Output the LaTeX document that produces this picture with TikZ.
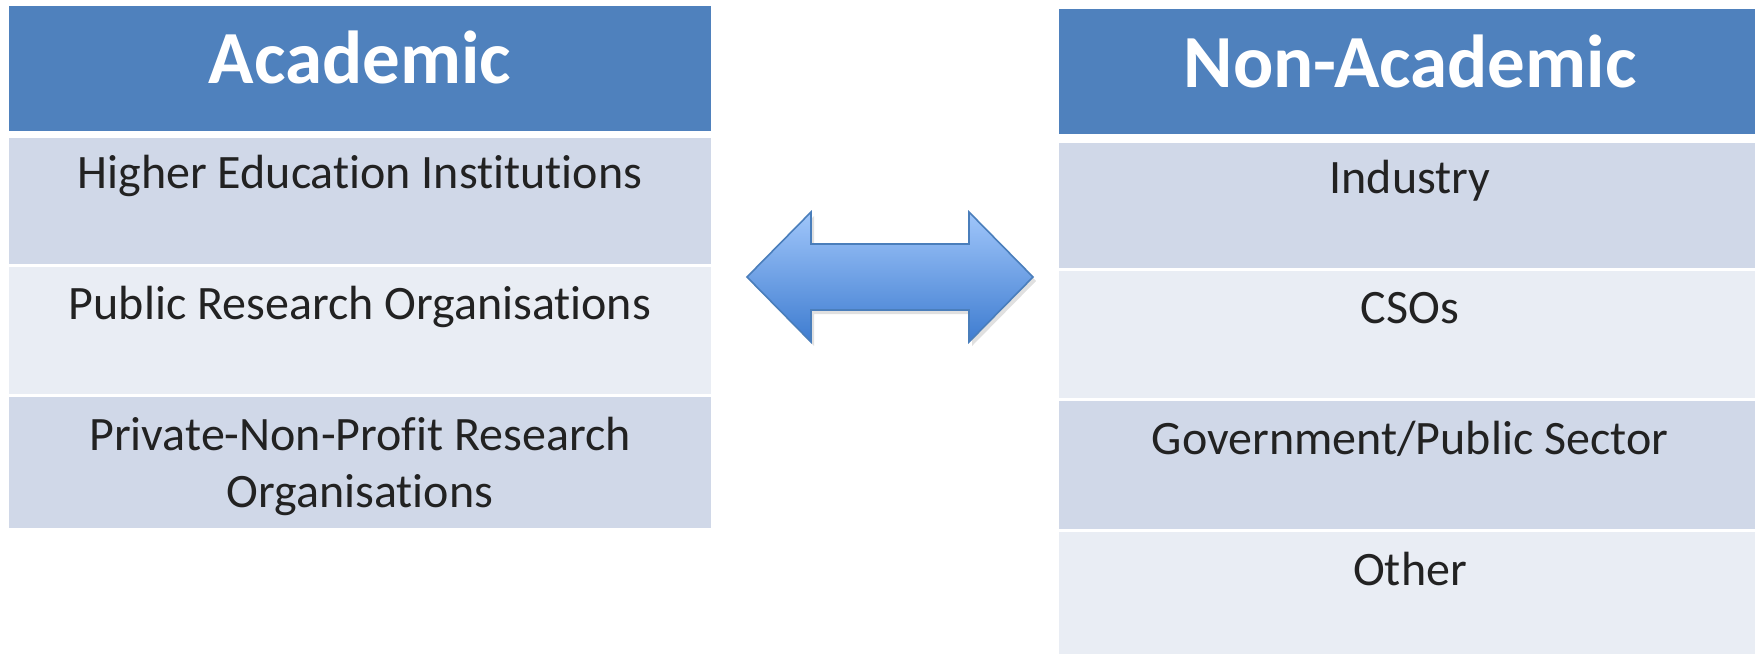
\documentclass[tikz,border=0pt]{standalone}
\usepackage{fontspec}
\setmainfont{Carlito}[Ligatures=NoCommon]
\definecolor{hdr}{HTML}{4F81BD}
\definecolor{rowdark}{HTML}{D0D8E8}
\definecolor{rowlight}{HTML}{E9EDF4}
\definecolor{txtcol}{HTML}{222222}
\definecolor{arrtop}{RGB}{160,198,250}
\definecolor{arrbot}{RGB}{62,124,208}
\definecolor{arredge}{RGB}{74,126,187}
\begin{document}
\begin{tikzpicture}[x=0.5pt,y=-0.5pt,
  hdrtext/.style={anchor=base,inner sep=0,text=white,font=\fontsize{37.5}{44}\selectfont\bfseries},
  celltext/.style={anchor=base,inner sep=0,text=txtcol,align=center,font=\fontsize{24}{28.5}\selectfont}]
\useasboundingbox (0,0) rectangle (1755,654);
\fill[white] (0,0) rectangle (1755,654);
% left table
\fill[hdr] (9,6) rectangle (711,131);
\fill[rowdark] (9,138) rectangle (711,264);
\fill[rowlight] (9,267) rectangle (711,394);
\fill[rowdark] (9,397) rectangle (711,528);
\node[hdrtext] (acad) at (360,83) {Academic};
\node[celltext] (hei) at (360,188) {Higher Education Institutions};
\node[celltext] (pro) at (360,319) {Public Research Organisations};
\node[celltext] (pnp) at (360,507) {Private-Non-Profit Research\\Organisations};
% right table
\fill[hdr] (1059,9) rectangle (1755,134);
\fill[rowdark] (1059,143) rectangle (1755,268);
\fill[rowlight] (1059,271) rectangle (1755,398);
\fill[rowdark] (1059,401) rectangle (1755,529);
\fill[rowlight] (1059,532) rectangle (1755,654);
\node[hdrtext] (nonacad) at (1410,87) {Non-Academic};
\node[celltext] (ind) at (1410,193) {Industry};
\node[celltext] (cso) at (1410,323) {CSOs};
\node[celltext] (gov) at (1410,454) {Government/Public Sector};
\node[celltext] (oth) at (1410,585) {Other};
% double arrow
\fill[black,opacity=0.12] (750,281) -- (814,216) -- (814,248) -- (972,248) -- (972,216) -- (1036,281) -- (972,346) -- (972,314) -- (814,314) -- (814,346) -- cycle;
\shade[top color=arrtop,bottom color=arrbot,draw=arredge,line width=0.8pt,line join=miter]
  (747,277) -- (811,212) -- (811,244) -- (969,244) -- (969,212) -- (1033,277) -- (969,342) -- (969,310) -- (811,310) -- (811,342) -- cycle;
\end{tikzpicture}
\end{document}
